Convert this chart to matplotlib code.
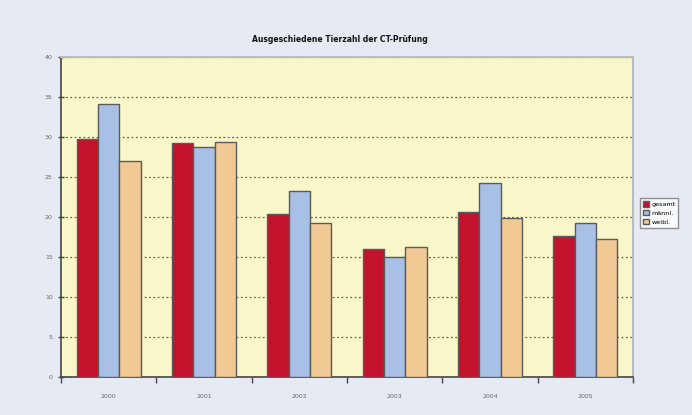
import matplotlib
matplotlib.use("Agg")
import matplotlib.pyplot as plt
import numpy as np

years = ["2000", "2001", "2002", "2003", "2004", "2005"]
series_names = ["gesamt", "männl.", "weibl."]
gesamt = [29.8, 29.3, 20.4, 16.0, 20.6, 17.6]
maennl = [34.1, 28.8, 23.2, 15.0, 24.3, 19.3]
weibl = [27.0, 29.4, 19.3, 16.3, 19.9, 17.3]
yticks = [0, 5, 10, 15, 20, 25, 30, 35, 40]
title = "Ausgeschiedene Tierzahl der CT-Prüfung"

colors = ["#c2122c", "#a9c0e6", "#f0c994"]

fig = plt.figure(figsize=(6.92, 4.15), dpi=100)
fig.patch.set_facecolor("#e6ebf3")
ax = fig.add_axes([61/692, 1-377/415, (633-61)/692, (377-57)/415])
ax.set_facecolor("#f9f7ca")

x = np.arange(len(years))
w = 0.224
for i, (vals, c, name) in enumerate(zip([gesamt, maennl, weibl], colors, series_names)):
    ax.bar(x + (i-1)*w, vals, width=w, color=c, edgecolor="#5a5a5a", linewidth=1.0, label=name, zorder=3)

ax.set_xlim(-0.5, len(years)-0.5)
ax.set_ylim(0, 40)
ax.set_yticks(yticks)
ax.set_yticklabels([str(t) for t in yticks], fontsize=4.5, color="#666666")
ax.set_xticks(x)
ax.set_xticklabels(years, fontsize=4.5, color="#666666")
ax.tick_params(axis="x", length=0, pad=12)
ax.set_xticks(np.arange(-0.5, len(years)), minor=True)
ax.tick_params(axis="x", which="minor", length=4, width=1, color="#444444", direction="out")
ax.tick_params(axis="y", length=4, width=1, color="#444444", direction="inout", pad=4)
ax.yaxis.grid(True, linestyle=(0, (1.5, 2)), color="#666655", linewidth=0.9, zorder=1)
for s in ["top", "right"]:
    ax.spines[s].set_color("#bbbbbb")
    ax.spines[s].set_linewidth(1.5)
for s in ["left", "bottom"]:
    ax.spines[s].set_color("#444444")
    ax.spines[s].set_linewidth(1.2)

fig.text(340/692, 1-40/415, title, ha="center", va="center", fontsize=5.5, fontweight="heavy", color="#111111")

leg = fig.legend(loc="center left", bbox_to_anchor=(637/692, 1-213/415), fontsize=4.6,
                 frameon=True, fancybox=False, edgecolor="#777777", handlelength=0.9,
                 handleheight=0.9, borderpad=0.45, labelspacing=0.45, handletextpad=0.4)
leg.get_frame().set_linewidth(1.0)

fig.savefig("out.png", dpi=100, facecolor=fig.get_facecolor())
